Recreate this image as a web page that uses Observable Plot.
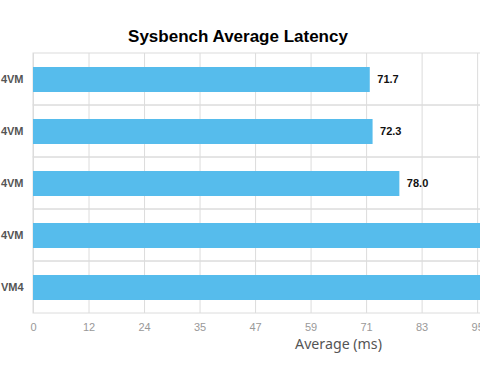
<!DOCTYPE html>
<html>
<head>
<meta charset="utf-8">
<script src="https://cdn.jsdelivr.net/npm/d3@7"></script>
<script src="https://cdn.jsdelivr.net/npm/@observablehq/plot@0.6"></script>
<style>
  html, body { margin: 0; padding: 0; background: #fff; overflow: hidden; }
</style>
</head>
<body>
<div id="chart"></div>
<script>
const title = "Sysbench Average Latency";
const xLabel = "Average (ms)";
const categories = ["4VM", "4VM", "4VM", "4VM", "VM4"]; // visible (cropped) labels
const values = [71.7, 72.3, 78.0, 104.0, 112.0];
const tickValues = [0, 11.82, 23.64, 35.46, 47.28, 59.1, 70.92, 82.74, 94.56];
const tickLabels = ["0", "12", "24", "35", "47", "59", "71", "83", "95"];

const rows = categories.map((c, i) => ({key: i, label: c, value: values[i]}));
const keys = rows.map(d => d.key);

const chart = Plot.plot({
  width: 480,
  height: 382,
  marginTop: 53,
  marginBottom: 69,
  marginLeft: 33,
  marginRight: 0,
  style: {fontFamily: "'Liberation Sans', Arial, sans-serif", background: "white"},
  x: {domain: [0, 95.17], label: null},
  y: {domain: keys, padding: 0, label: null},
  marks: [
    Plot.ruleX(tickValues, {stroke: "#dcdcdc"}),
    Plot.cell(rows, {y: "key", fill: "none", stroke: "#dcdcdc", insetRight: -3}),
    Plot.barX(rows, {y: "key", x: "value", fill: "#56bcec", insetTop: 14, insetBottom: 13}),
    Plot.text(rows, {y: "key", x: "value", text: d => d.value.toFixed(1), textAnchor: "start", dx: 7, fontWeight: "bold", fontSize: 11, fill: "#111"}),
    Plot.axisX({ticks: tickValues, tickFormat: d => tickLabels[tickValues.indexOf(d)], tickSize: 0, tickPadding: 10, fontSize: 11, color: "#999", label: null}),
    Plot.axisY({tickFormat: i => categories[i], tickSize: 0, tickPadding: 10, fontWeight: "bold", fontSize: 11, color: "#555", label: null}),
    Plot.text([xLabel], {text: d => d, frameAnchor: "bottom", dx: 81.5, dy: 35.5, fontSize: 14.2, fontFamily: "'Noto Sans', sans-serif", fill: "#555"}),
    Plot.text([title], {text: d => d, frameAnchor: "top", dx: -19, dy: -24, fontSize: 17, fontWeight: "bold", fill: "#000"})
  ]
});
document.getElementById("chart").appendChild(chart);
</script>
</body>
</html>
